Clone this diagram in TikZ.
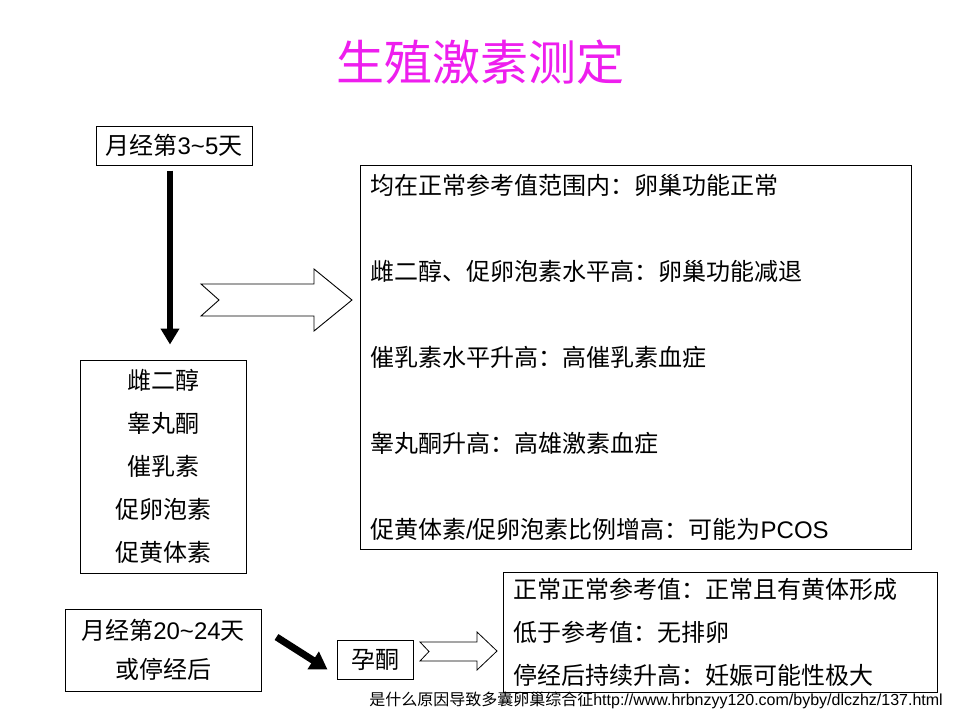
\documentclass[tikz,border=0pt]{standalone}
\usepackage{fontspec}
\setmainfont{Noto Sans CJK SC}
\newfontfamily\lat{Liberation Sans}
\usetikzlibrary{arrows.meta}
\definecolor{titlemag}{RGB}{238,30,238}
\begin{document}
\begin{tikzpicture}[x=1pt,y=-1pt,
  box/.style={draw=black, line width=1pt, inner sep=0pt, font=\fontsize{24}{43}\selectfont},
  lbox/.style={box, align=left, inner xsep=10pt, inner ysep=0pt},
  hollow/.style={draw=black, line width=0.9pt, fill=white, line join=miter},
  bold arrow/.style={line width=6pt, -{Triangle[width=18pt,length=16pt]}}
]
\useasboundingbox[fill=white] (0,0) rectangle (960,720);

% title
\node[text=titlemag, font=\fontsize{48}{58}\selectfont, inner sep=0pt] (title) at (480,62) {生殖激素测定};

% first column
\node[box, minimum width=156pt, minimum height=39pt] (day35) at (174,145.5) {月经第{\lat 3\textasciitilde 5}天};
\node[box, align=center, minimum width=166pt, minimum height=213pt] (horm) at (163,466.5) {雌二醇\\睾丸酮\\催乳素\\促卵泡素\\促黄体素};

\draw[bold arrow, shorten >=15pt] ([xshift=-4pt,yshift=-5pt]day35.south) -- ([xshift=-4pt]day35.south |- horm.north);

% big result box
\node[lbox, text width=531pt, minimum height=384pt, font=\fontsize{24}{86}\selectfont] (res) at (635.5,357)
  {均在正常参考值范围内：卵巢功能正常\\
   雌二醇、促卵泡素水平高：卵巢功能减退\\
   催乳素水平升高：高催乳素血症\\
   睾丸酮升高：高雄激素血症\\
   促黄体素{\lat /}促卵泡素比例增高：可能为{\lat PCOS}};

% big hollow arrow
\draw[hollow] (201,284) -- (314,284) -- (314,269) -- (352,300) -- (314,331) -- (314,316) -- (201,316) -- (219,300) -- cycle;

% second phase
\node[box, align=center, minimum width=196pt, minimum height=82pt, font=\fontsize{24}{39}\selectfont] (day20) at (163,650) {月经第{\lat 20\textasciitilde 24}天\\或停经后};
\node[box, minimum width=76pt, minimum height=39pt] (prog) at (375,659.5) {孕酮};

\draw[line width=7pt, -{Triangle[width=20pt,length=17pt]}] ([xshift=15pt,yshift=13pt]day20.east) -- ([xshift=-9pt,yshift=-10pt]prog.west);

% small hollow arrow
\draw[hollow, line width=0.8pt] (420,642) -- (477,642) -- (477,632) -- (497,651) -- (477,670) -- (477,661) -- (420,661) -- (429,651.5) -- cycle;

\node[lbox, text width=414pt, minimum height=120pt] (pres) at (720,632)
  {正常正常参考值：正常且有黄体形成\\
   低于参考值：无排卵\\
   停经后持续升高：妊娠可能性极大};

% footer
\node[anchor=east, inner sep=0pt, font=\fontsize{16}{19}\selectfont] (foot) at (943,700)
  {是什么原因导致多囊卵巢综合征{\lat http://www.hrbnzyy120.com/byby/dlczhz/137.html}};
\end{tikzpicture}
\end{document}
